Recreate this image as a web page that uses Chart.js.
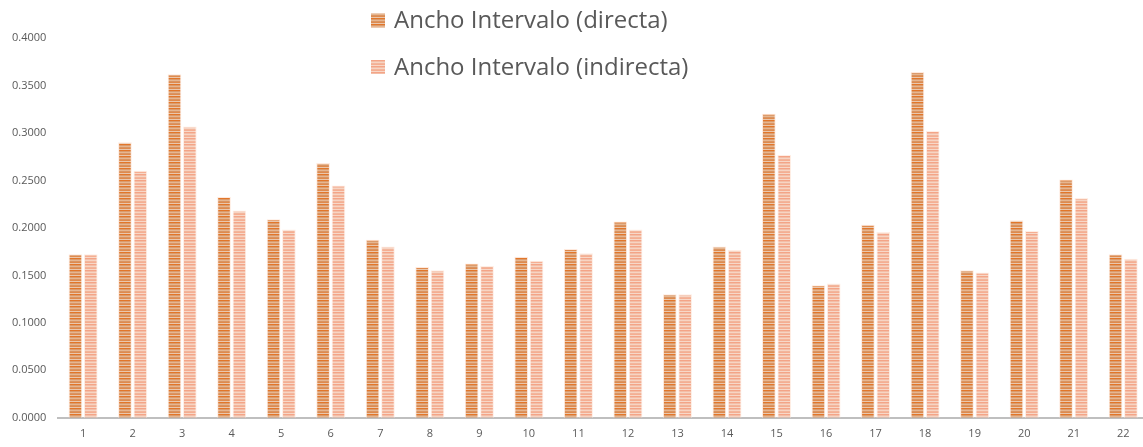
<!DOCTYPE html>
<html>
<head>
<meta charset="utf-8">
<script src="https://cdn.jsdelivr.net/npm/chart.js@4"></script>
<style>
  html, body { margin: 0; padding: 0; background: #fff; overflow: hidden; }
  #wrap { width: 1148px; height: 447px; position: relative; }
</style>
</head>
<body>
<div id="wrap"><canvas id="chart"></canvas></div>
<script>
/* Categories and values. */
const labels = ["1", "2", "3", "4", "5", "6", "7", "8", "9", "10", "11",
  "12", "13", "14", "15", "16", "17", "18", "19", "20", "21", "22"]

const directa = [0.1723, 0.2902, 0.3617, 0.2326, 0.2091, 0.2684, 0.1874, 0.1589,
  0.1625, 0.1695, 0.1779, 0.2067, 0.1302, 0.1803, 0.3203, 0.1397, 0.2032,
  0.3642, 0.1554, 0.2081, 0.2509, 0.1723]

const indirecta = [0.1723, 0.2603, 0.3067, 0.2183, 0.1982, 0.2446, 0.1803, 0.1554,
  0.1600, 0.1653, 0.1733, 0.1982, 0.1302, 0.1768, 0.2768, 0.1414, 0.1958,
  0.3021, 0.1530, 0.1968, 0.2316, 0.1674]

const seriesNames = ["Ancho Intervalo (directa)", "Ancho Intervalo (indirecta)"]

/* Horizontal stripe pattern, like the Excel fill. */
const makeStripes = rows => {
  const c = document.createElement("canvas")
  c.width = 4
  c.height = rows.length
  const g = c.getContext("2d")
  rows.forEach((col, i) => {
    g.fillStyle = col
    g.fillRect(0, i, 4, 1)
  })
  return g.createPattern(c, "repeat")
}

const ctx = document.getElementById("chart").getContext("2d")

const fillDirecta = makeStripes(["#e27629", "#db9b6c", "#e6b690", "#d99462", "#df8a4d", "#e9c7ad"])
const fillIndirecta = makeStripes(["#f4a487", "#f3bea7", "#f7d4c3", "#f2b69c", "#f5ae92", "#f7d8c8"])

/* Legend drawn as two stacked rows over the plot. */
const stackedLegend = {
  id: "stackedLegend",
  afterDraw(chart) {
    const c = chart.ctx
    const fills = [fillDirecta, fillIndirecta]
    const rowsY = [20.5, 67]
    c.save()
    c.font = "24px 'Open Sans', 'Noto Sans', sans-serif"
    c.textBaseline = "middle"
    seriesNames.forEach((name, i) => {
      c.fillStyle = fills[i]
      c.fillRect(371, rowsY[i] - 7, 14, 14)
      c.fillStyle = "#595959"
      c.fillText(name, 394, rowsY[i] + 1)
    })
    c.restore()
  }
}

new Chart(ctx, {
  type: "bar",
  data: {
    labels: labels,
    datasets: [{
      label: seriesNames[0],
      data: directa,
      backgroundColor: fillDirecta,
      borderColor: "rgba(255, 232, 218, 0.9)",
      borderWidth: 1
    }, {
      label: seriesNames[1],
      data: indirecta,
      backgroundColor: fillIndirecta,
      borderColor: "rgba(255, 236, 226, 0.9)",
      borderWidth: 1
    }]
  },
  options: {
    responsive: true,
    maintainAspectRatio: false,
    animation: false,
    categoryPercentage: 0.62,
    barPercentage: 0.89,
    layout: {
      padding: { top: 38, left: 0, right: 0, bottom: -2 }
    },
    scales: {
      x: {
        grid: { display: false, drawTicks: false },
        border: { display: true, color: "#bfbfbf", width: 2 },
        ticks: {
          color: "#595959",
          font: { size: 11, family: "'Open Sans', 'Noto Sans', sans-serif" },
          padding: 9,
          maxRotation: 0
        }
      },
      y: {
        min: 0,
        max: 0.4,
        grid: { display: false, drawTicks: false },
        border: { display: false },
        ticks: {
          stepSize: 0.05,
          color: "#595959",
          font: { size: 11, family: "'Open Sans', 'Noto Sans', sans-serif" },
          padding: 12,
          callback: v => v.toFixed(4)
        }
      }
    },
    plugins: {
      legend: { display: false },
      tooltip: { enabled: false }
    }
  },
  plugins: [stackedLegend]
})
</script>
</body>
</html>
